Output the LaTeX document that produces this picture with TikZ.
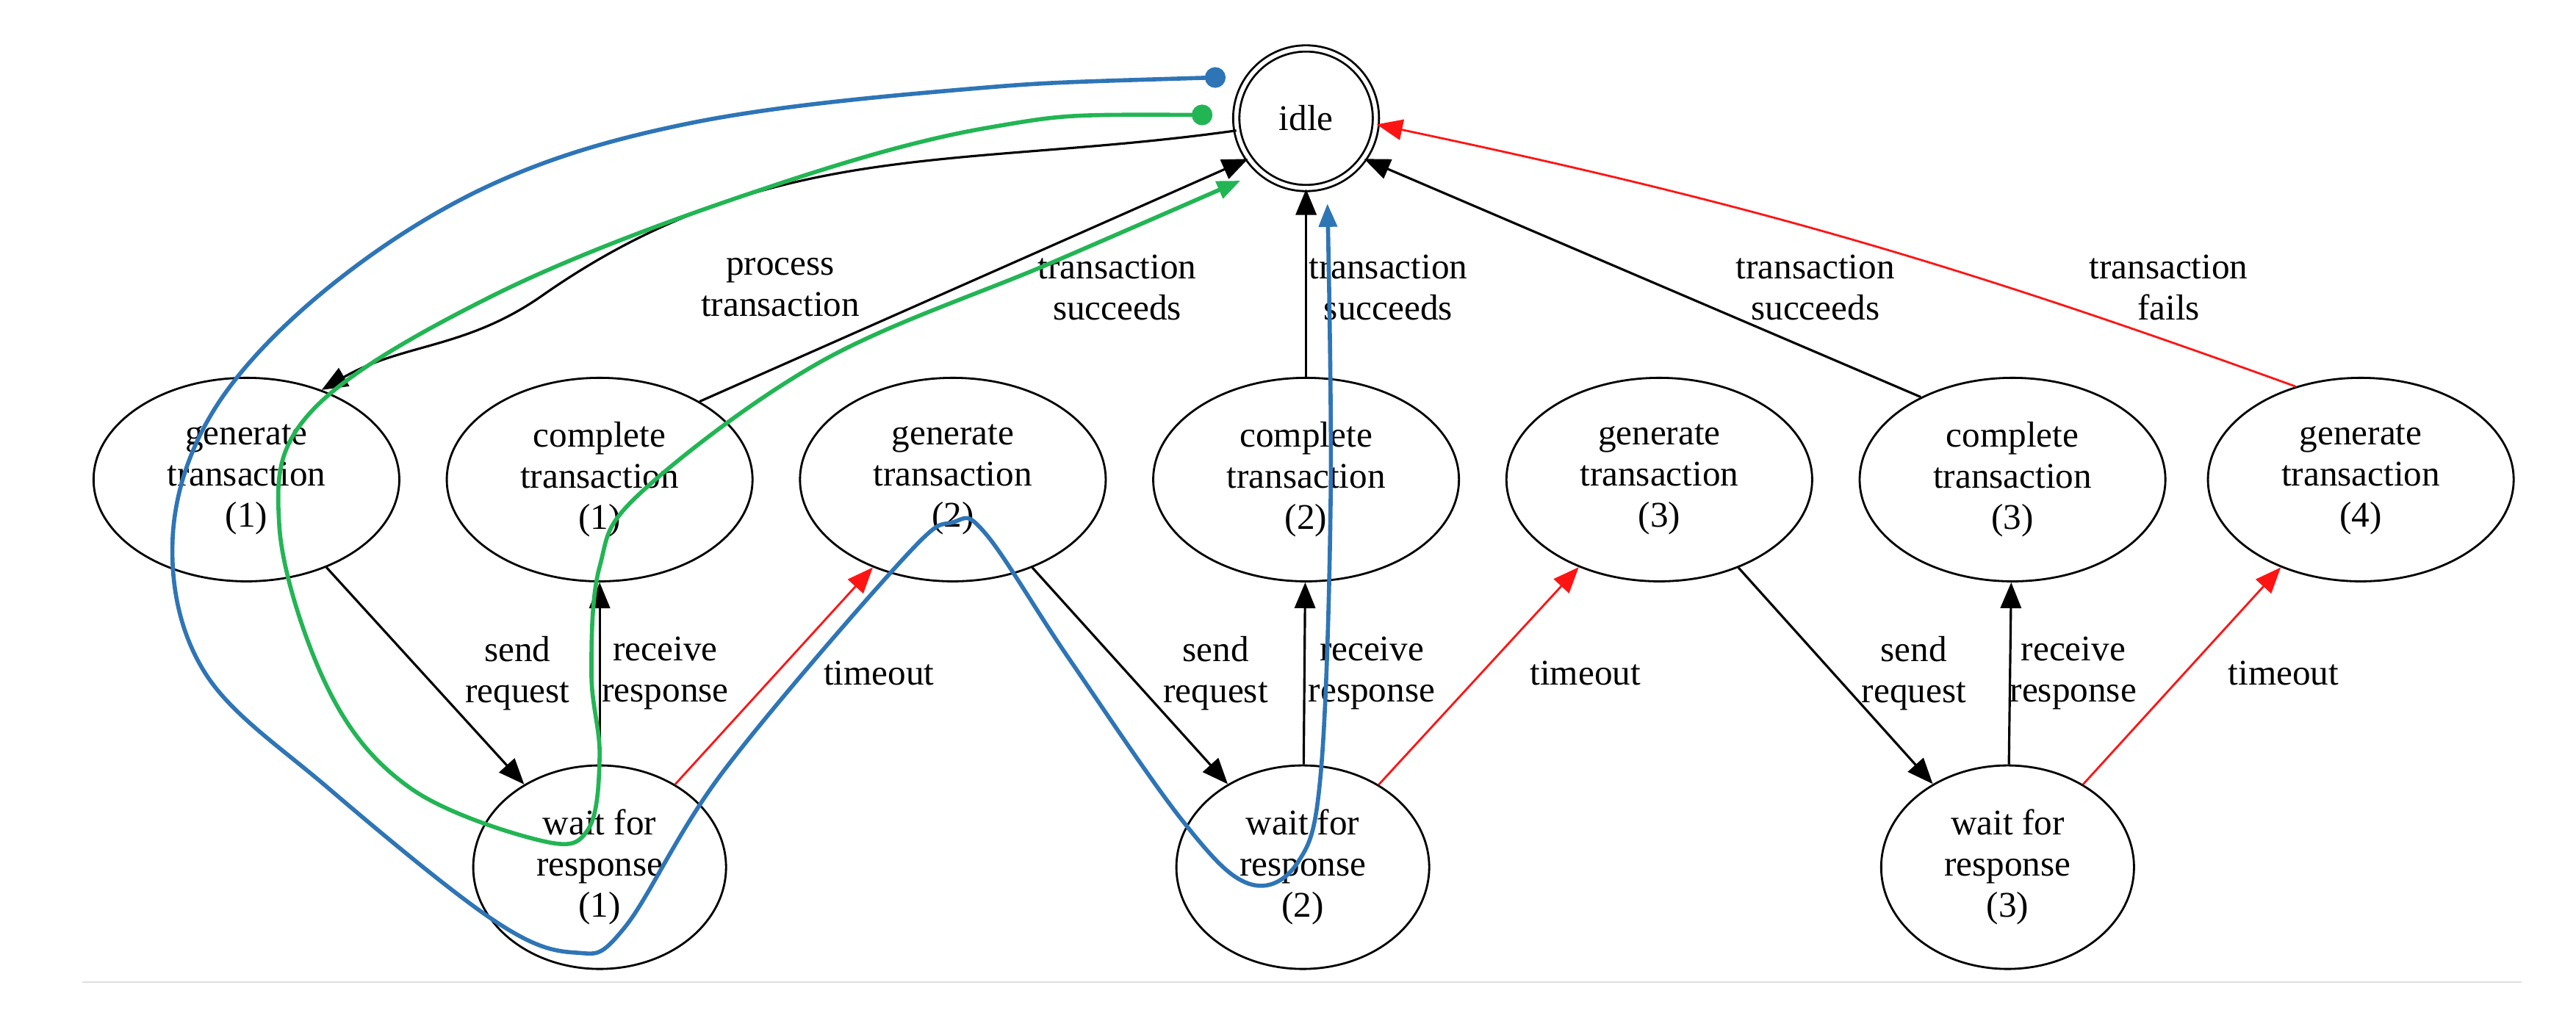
\documentclass[tikz,border=0pt]{standalone}
\usepackage{fontspec}
\setmainfont{Liberation Serif}
\usepackage{xcolor}
\definecolor{Path-blue}{RGB}{46, 117, 182}
\definecolor{Path-green}{RGB}{34, 181, 84}
\definecolor{Edge-red}{RGB}{255, 20, 20}
\usetikzlibrary{arrows.meta,shapes.geometric,positioning}

\begin{document}
\begin{tikzpicture} [ % styles of the states and edges
    x=0.02236cm, y=-0.02236cm, font=\fontsize{14}{16}\selectfont,
    >={Triangle[length=10pt,width=8pt]},
    gen/.style = {ellipse, draw, line width=0.8pt, minimum width=4.16cm, minimum height=2.77cm, align=center},
    wait/.style = {ellipse, draw, line width=0.8pt, minimum width=3.44cm, minimum height=2.77cm, align=center},
    start/.style = {circle, draw, line width=0.8pt, double, double distance=1.6pt, minimum size=1.9cm},
    edge/.style = {->, line width=0.9pt},
    fail/.style = {->, line width=0.8pt, draw=Edge-red},
    run-blue/.style = {{Circle[length=8pt]}-{Triangle[length=9pt,width=7pt]}, line width=1.6pt, draw=Path-blue},
    run-green/.style = {{Circle[length=8pt]}-{Triangle[length=9pt,width=7pt]}, line width=1.6pt, draw=Path-green},
    lab/.style = {align=center, inner sep=1pt}
]

\useasboundingbox (0,0) rectangle (1568,621.6);
\draw [gray!25, line width=0.6pt] (50,598) -- (1535,598);

% start state
\node [start] (idle) at (795,72){idle};

% upper row
\node [gen] (gen1) at (150,292){generate\\transaction\\(1)};
\node [gen] (comp1) at (365,292){complete\\transaction\\(1)};
\node [gen] (gen2) at (580,292){generate\\transaction\\(2)};
\node [gen] (comp2) at (795,292){complete\\transaction\\(2)};
\node [gen] (gen3) at (1010,292){generate\\transaction\\(3)};
\node [gen] (comp3) at (1225,292){complete\\transaction\\(3)};
\node [gen] (gen4) at (1437,292){generate\\transaction\\(4)};

% lower row
\node [wait] (wait1) at (365,528){wait for\\response\\(1)};
\node [wait] (wait2) at (793,528){wait for\\response\\(2)};
\node [wait] (wait3) at (1222,528){wait for\\response\\(3)};

% edges to and from idle
\draw [edge] (idle.190) to[out=188,in=35] (330,180) to[out=215,in=30] (gen1.50);
\draw [edge] (comp1.38) -- (idle.215);
\draw [edge] (comp2) -- (idle);
\draw [edge] (comp3.138) -- (idle.-35);
\draw [fail] (gen4.125) to[bend right=4] (idle.-5);

\node [lab] (l-proc) at (475,175){process\\transaction};
\node [lab] (l-ok1) at (680,175){transaction\\succeeds};
\node [lab] (l-ok2) at (845,175){transaction\\succeeds};
\node [lab] (l-ok3) at (1105,175){transaction\\succeeds};
\node [lab] (l-fail) at (1320,175){transaction\\fails};

% edges between the rows
\draw [edge] (gen1) -- (wait1);
\draw [edge] (wait1) -- (comp1);
\draw [fail] (wait1) -- (gen2);
\draw [edge] (gen2) -- (wait2);
\draw [edge] (wait2) -- (comp2);
\draw [fail] (wait2) -- (gen3);
\draw [edge] (gen3) -- (wait3);
\draw [edge] (wait3) -- (comp3);
\draw [fail] (wait3) -- (gen4);

\node [lab] (l-s1) at (315,410){send\\request};
\node [lab] (l-r1) at (405,410){receive\\response};
\node [lab] (l-t1) at (535,410){timeout};
\node [lab] (l-s2) at (740,410){send\\request};
\node [lab] (l-r2) at (835,410){receive\\response};
\node [lab] (l-t2) at (965,410){timeout};
\node [lab] (l-s3) at (1165,410){send\\request};
\node [lab] (l-r3) at (1262,410){receive\\response};
\node [lab] (l-t3) at (1390,410){timeout};

% runs
\coordinate (b-start) at (746,47);
\coordinate (b-end) at (808,124);
\coordinate (g-start) at (738,70);
\coordinate (g-end) at (755,110);
\draw [run-blue] plot[smooth, tension=0.6] coordinates {(b-start) (580,55) (420,75) (300,112) (200,175) (130,250) (105,330) (125,410) (200,480) (300,560) (350,580) (380,565) (440,470) (550,340) (580,318) (600,325) (650,400) (720,500) (760,538) (790,525) (804,470) (810,300) (b-end)};
\draw [run-green] plot[smooth, tension=0.6] coordinates {(g-start) (600,78) (450,120) (300,180) (190,250) (170,320) (200,420) (250,480) (330,512) (358,505) (365,460) (360,410) (365,345) (390,300) (500,220) (640,160) (g-end)};

\end{tikzpicture}
\end{document}
